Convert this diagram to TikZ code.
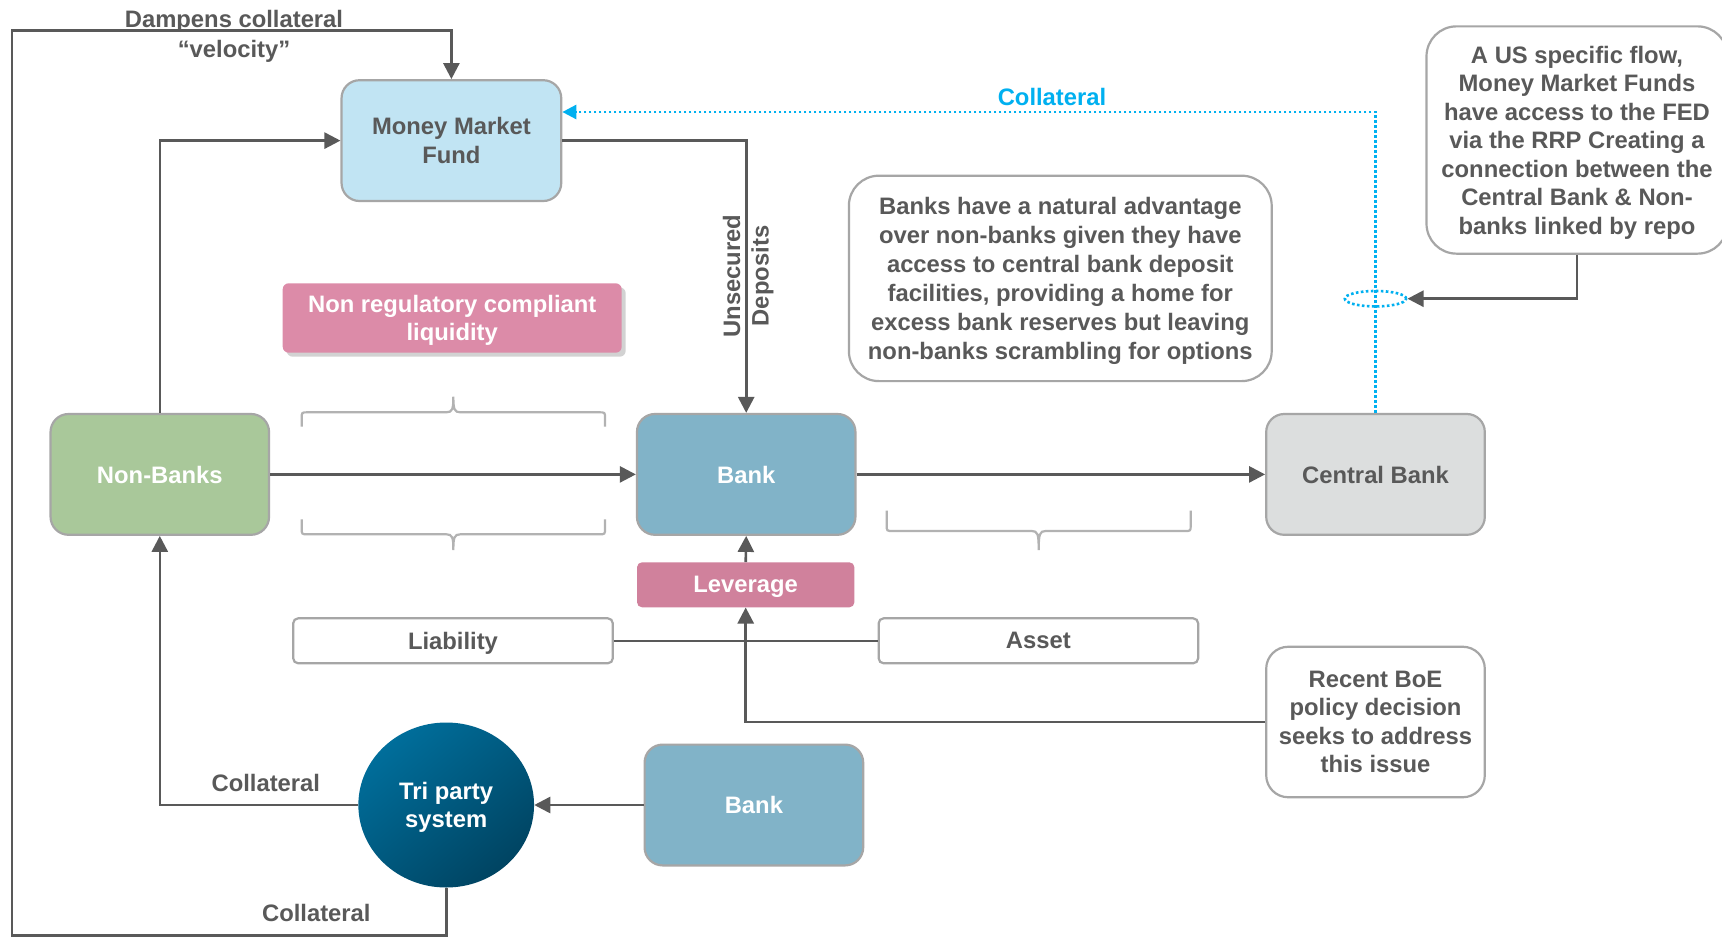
\documentclass[tikz,border=0pt]{standalone}
\usepackage{fontspec}
\setmainfont{Liberation Sans}
\usetikzlibrary{arrows.meta,shapes.geometric,shadows}
\definecolor{txt}{RGB}{89,89,89}
\definecolor{bord}{RGB}{166,166,166}
\definecolor{mmfc}{RGB}{193,228,243}
\definecolor{nonbankc}{RGB}{169,200,154}
\definecolor{bankc}{RGB}{129,179,200}
\definecolor{cbankc}{RGB}{220,222,222}
\definecolor{levc}{RGB}{208,129,156}
\definecolor{nonregc}{RGB}{220,139,168}
\definecolor{bluec}{RGB}{0,176,240}
\definecolor{tpA}{RGB}{0,110,155}
\definecolor{tpB}{RGB}{0,68,98}
\definecolor{braceg}{RGB}{178,178,178}
\newcommand\mybrace[5]{%
\pgfmathsetmacro\bxm{(#1+#2)/2}%
\pgfmathsetmacro\bs{(#4>#3)?1:-1}%
\pgfmathsetmacro\bya{#4-6*\bs}%
\pgfmathsetmacro\byb{#4+3*\bs}%
\pgfmathsetmacro\bxa{#1+6}%
\pgfmathsetmacro\bxb{#2-6}%
\pgfmathsetmacro\bxc{\bxm-7}%
\pgfmathsetmacro\bxd{\bxm-1}%
\pgfmathsetmacro\bxe{\bxm+1}%
\pgfmathsetmacro\bxf{\bxm+7}%
\draw[brc] (#1,#3) -- (#1,\bya) .. controls (#1,#4) .. (\bxa,#4) -- (\bxc,#4) .. controls (\bxd,#4) and (\bxm,\byb) .. (\bxm,#5) .. controls (\bxm,\byb) and (\bxe,#4) .. (\bxf,#4) -- (\bxb,#4) .. controls (#2,#4) .. (#2,\bya) -- (#2,#3);}
\tikzset{
 base/.style={font=\fontsize{23.8}{28.5}\selectfont\bfseries, align=center, inner sep=0pt, text depth=0pt},
 box/.style={base, draw=bord, line width=2.2pt, rounded corners=18pt, text=txt},
 conn/.style={draw=txt, line width=2.6pt, -{Triangle[length=16pt,width=16pt]}},
 plain/.style={draw=txt, line width=2.6pt},
 lbl/.style={base, text=txt},
 bconn/.style={draw=bluec, line width=2.6pt, dash pattern=on 2.6pt off 2.4pt},
 brc/.style={draw=braceg, line width=2.2pt},
}
\begin{document}
\begin{tikzpicture}[x=1pt,y=-1pt]
\useasboundingbox (0,0) rectangle (1722,940);
\fill[white] (0,0) rectangle (1722,940);

% braces
\mybrace{301.7}{605}{426.7}{412.3}{396.7}
\mybrace{301.7}{605}{519.3}{534.3}{550}
\mybrace{886.7}{1190.7}{510.7}{531}{550}

% nodes
\node[box, fill=mmfc, minimum width=219.7pt, minimum height=120.8pt] (mmf) at (451.4,140.6) {Money Market\\Fund};
\node[box, fill=nonbankc, text=white, minimum width=218.5pt, minimum height=120.8pt] (nonbank) at (159.8,474.4) {Non-Banks};
\node[box, fill=bankc, text=white, minimum width=218.5pt, minimum height=120.8pt] (bank) at (746.2,474.4) {Bank};
\node[box, fill=cbankc, minimum width=218.6pt, minimum height=120.8pt] (cbank) at (1375.5,474.4) {Central Bank};
\node[box, fill=bankc, text=white, minimum width=218.6pt, minimum height=120.8pt] (bank2) at (753.9,805) {Bank};
\node[base, ellipse, text=white, minimum width=175.7pt, minimum height=165pt, top color=tpA, bottom color=tpB, shading angle=40] (tri) at (446.2,805) {Tri party\\system};
\node[base, fill=levc, text=white, rounded corners=5pt, minimum width=217.4pt, minimum height=45pt] (lev) at (745.7,584.8) {Leverage};
\node[base, fill=nonregc, text=white, rounded corners=6pt, minimum width=339pt, minimum height=69.4pt, text depth=-5.8pt, drop shadow={shadow xshift=4pt, shadow yshift=-4pt, opacity=0.35}] (nonreg) at (452.2,318) {Non regulatory compliant\\liquidity};
\node[box, fill=white, rounded corners=5pt, minimum width=319.6pt, minimum height=45pt] (liab) at (453,640.8) {Liability};
\node[box, fill=white, rounded corners=5pt, minimum width=319.5pt, minimum height=45pt] (asset) at (1038.4,640.8) {Asset};
\node[box, fill=white, rounded corners=30pt, minimum width=422.8pt, minimum height=205.4pt, font=\fontsize{23.8}{29}\selectfont\bfseries] (banksnote) at (1060.3,278.4) {Banks have a natural advantage\\over non-banks given they have\\access to central bank deposit\\facilities, providing a home for\\excess bank reserves but leaving\\non-banks scrambling for options};
\node[box, fill=white, rounded corners=30pt, minimum width=301pt, minimum height=227.3pt] (us) at (1577,140) {A US specific flow,\\Money Market Funds\\have access to the FED\\via the RRP Creating a\\connection between the\\Central Bank \& Non-\\banks linked by repo};
\node[box, fill=white, rounded corners=22pt, minimum width=218.6pt, minimum height=150.5pt] (boe) at (1375.5,722) {Recent BoE\\policy decision\\seeks to address\\this issue};
\node[ellipse, draw=bluec, line width=2.6pt, dash pattern=on 2.6pt off 2.4pt, minimum width=61.4pt, minimum height=15.4pt, inner sep=0pt] (ring) at (1375.5,298.7) {};

% labels
\node[lbl] (damp) at (234,34) {Dampens collateral\\[1pt]“velocity”};
\node[lbl, rotate=90] (unsec) at (745.8,276) {Unsecured\\Deposits};
\node[lbl, text=bluec] (coll1) at (1052,96.6) {Collateral};
\node[lbl] (coll2) at (265.8,783) {Collateral};
\node[lbl] (coll3) at (316.3,912.6) {Collateral};

% connectors
\coordinate (bl) at (12.1,935.7);
\coordinate (tl) at (12.1,30.7);
\coordinate (cbt) at (0,112);
\draw[conn] (nonbank.north) |- (mmf.west);
\draw[conn] (mmf.east) -| (bank.north);
\draw[conn] (nonbank.east) -- (bank.west);
\draw[conn] (bank.east) -- (cbank.west);
\draw[conn] (lev.north) -- (bank.south);
\draw[plain] (liab.east) -- (asset.west);
\draw[conn] (boe.west) -| (lev.south);
\draw[conn] (bank2.west) -- (tri.east);
\draw[conn] (tri.west) -| (nonbank.south);
\draw[conn] (tri.south) |- (bl) -- (tl) -| (mmf.north);
\draw[bconn, -{Triangle[length=14pt,width=14pt]}] (cbank.north) -- (cbank.north |- cbt) -- (mmf.east |- cbt);
\draw[conn] (us.south) |- (ring.east);
\end{tikzpicture}
\end{document}
